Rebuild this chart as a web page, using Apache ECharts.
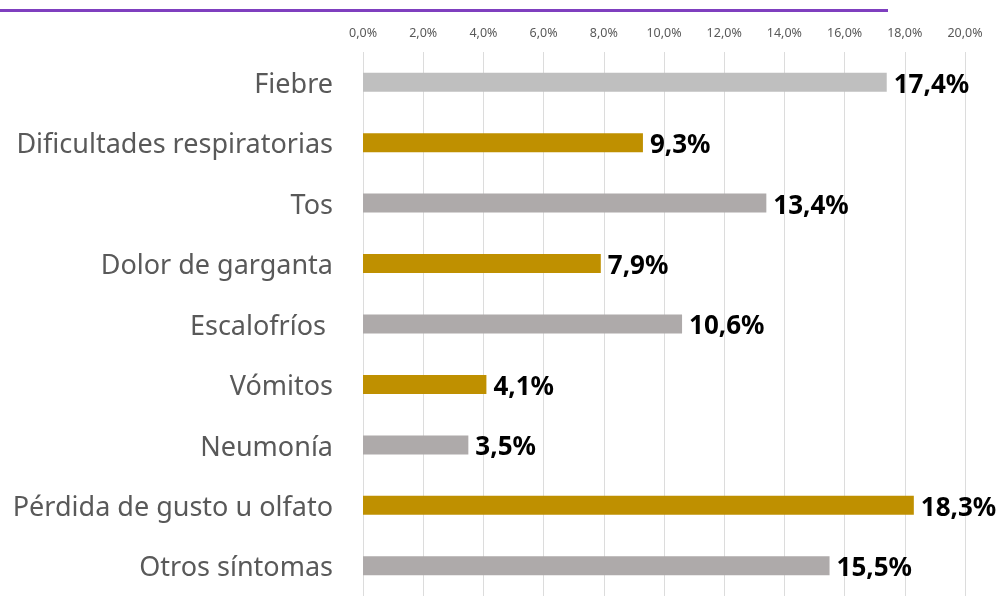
<!DOCTYPE html>
<html><head><meta charset="utf-8">
<script src="https://cdn.jsdelivr.net/npm/echarts@6/dist/echarts.min.js"></script>
<style>html,body{margin:0;padding:0;background:#fff}#c{width:996px;height:596px}</style>
</head><body><div id="c"></div>
<script>
const categories = ["Fiebre","Dificultades respiratorias","Tos","Dolor de garganta","Escalofríos ","Vómitos","Neumonía","Pérdida de gusto u olfato","Otros síntomas"];
const values = [17.4, 9.3, 13.4, 7.9, 10.6, 4.1, 3.5, 18.3, 15.5];
const barColors = ["#bfbfbf","#bf9000","#aeaaaa","#bf9000","#aeaaaa","#bf9000","#aeaaaa","#bf9000","#aeaaaa"];
const tickMax = 20, tickStep = 2;

const chart = echarts.init(document.getElementById('c'));
chart.setOption({
  animation:false,
  graphic:[{type:'line',shape:{x1:0,y1:10.5,x2:888,y2:10.5},style:{stroke:'#7f3fbf',lineWidth:3}}],
  grid:{left:363,right:31,top:52,height:551,containLabel:false},
  xAxis:{type:'value',position:'top',min:0,max:tickMax,interval:tickStep,
    axisLine:{show:false},axisTick:{show:false},
    axisLabel:{color:'#595959',fontSize:12.5,fontFamily:'Noto Sans',margin:12,
      formatter:v=>v.toFixed(1).replace('.',',')+'%'},
    splitLine:{show:true,lineStyle:{color:'#dcdcdc',width:1}}},
  yAxis:{type:'category',inverse:true,data:categories,
    axisLine:{show:false},axisTick:{show:false},
    axisLabel:{margin:30,formatter:v=>'{a|'+v+'}',
      rich:{a:{color:'#595959',fontSize:27,fontFamily:'Noto Sans',padding:[6,0,0,0]}}}},
  series:[{type:'bar',barWidth:19,
    data:values.map((v,i)=>({value:v,itemStyle:{color:barColors[i]}})),
    label:{show:true,position:'right',distance:7,offset:[0,3],color:'#000',fontWeight:'bold',fontSize:26,fontFamily:'Noto Sans',
      formatter:p=>p.value.toFixed(1).replace('.',',')+'%'}}]
});
</script></body></html>
